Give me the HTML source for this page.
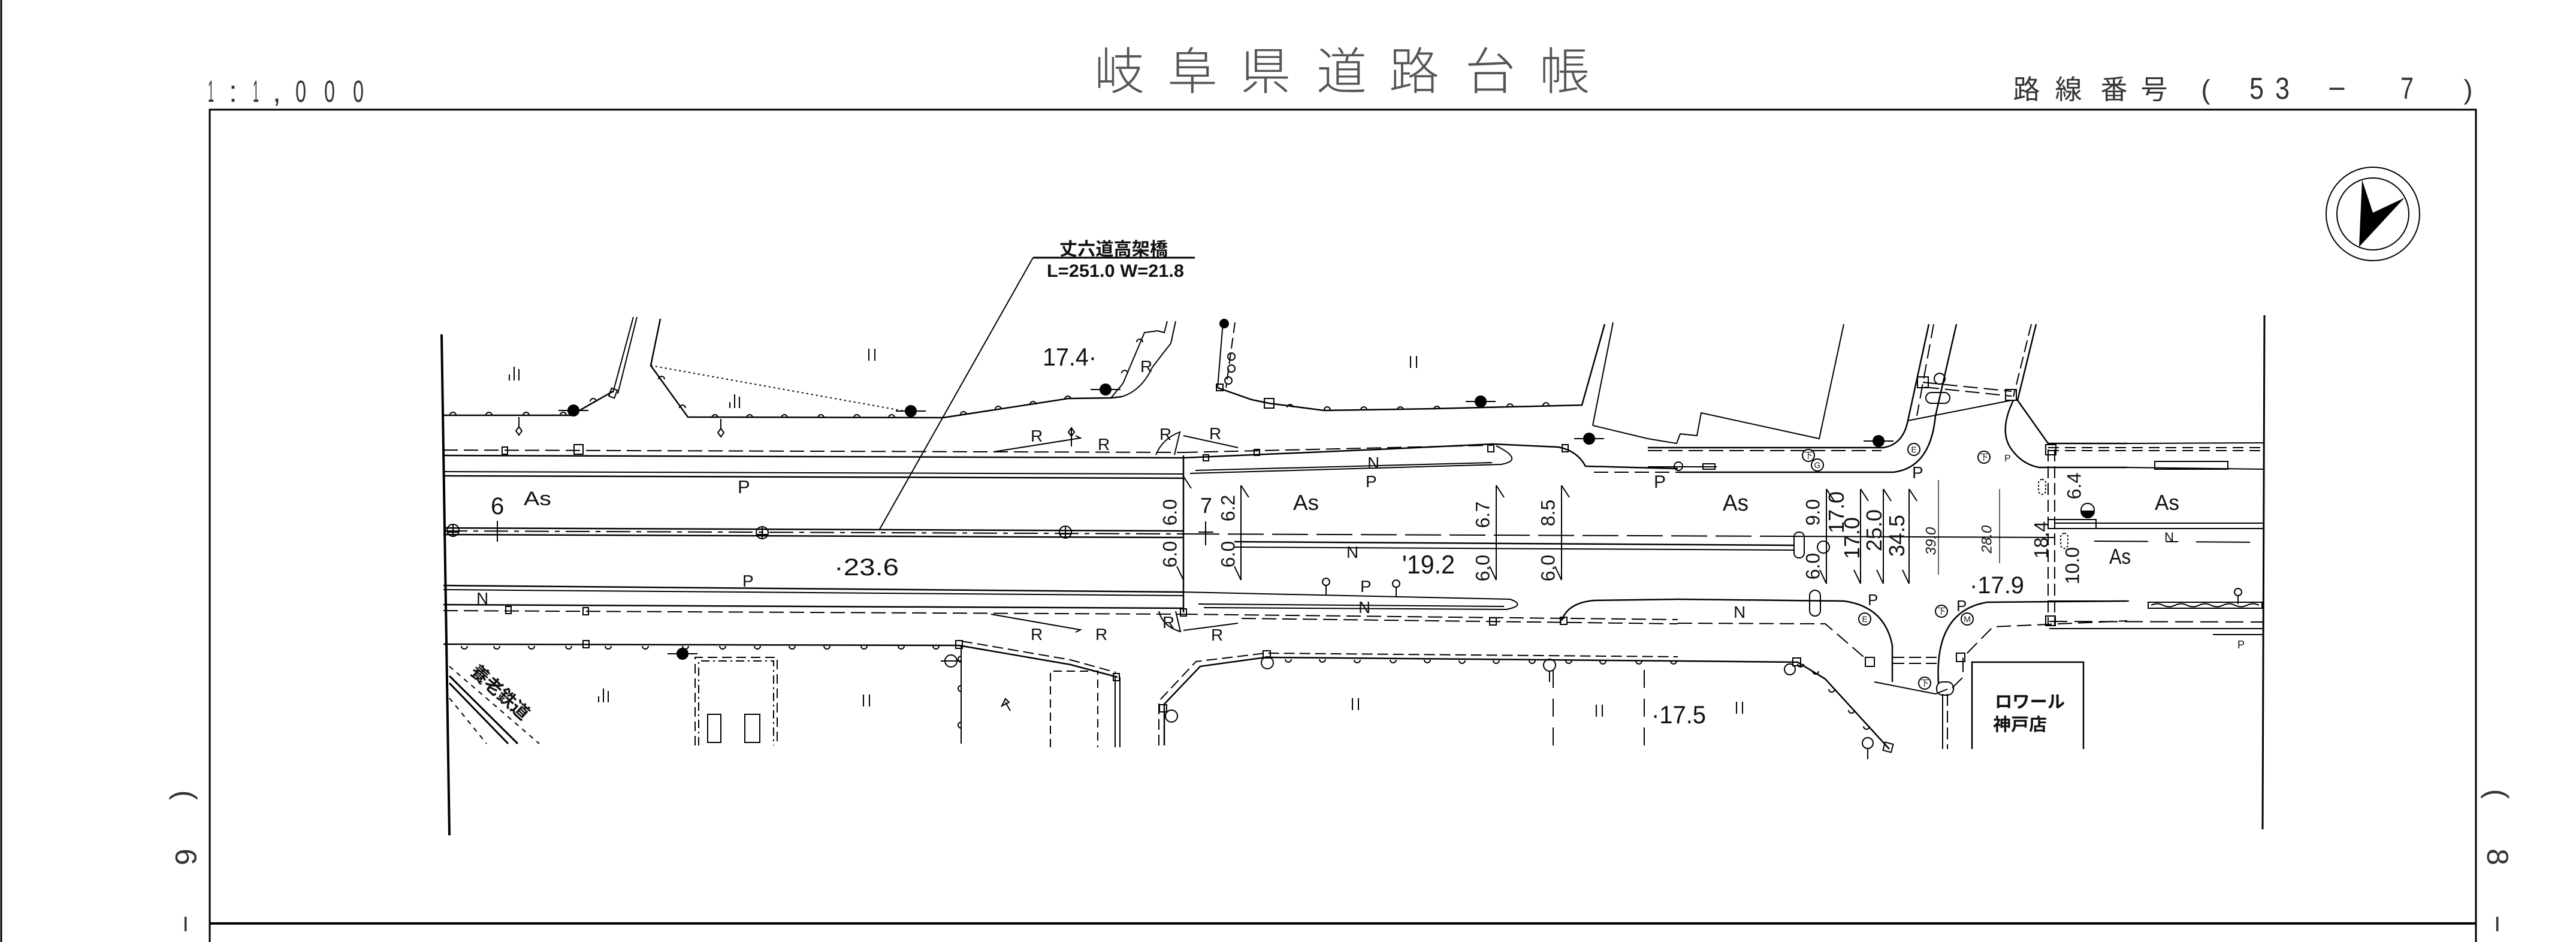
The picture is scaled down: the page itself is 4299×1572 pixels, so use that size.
<!DOCTYPE html>
<html><head><meta charset="utf-8"><style>
html,body{margin:0;padding:0;background:#fff;}
svg{display:block}
text{font-family:"Liberation Sans","Noto Sans CJK JP",sans-serif;fill:#111;stroke:none;}
.hd{fill:#333;}
.tt{fill:#555;font-weight:300;}
</style></head><body>
<svg width="4299" height="1572" viewBox="0 0 4299 1572" xmlns="http://www.w3.org/2000/svg">
<rect width="4299" height="1572" fill="#fff"/>
<g fill="none" stroke="#000" stroke-width="2">
<!-- frame -->
<line x1="2" y1="0" x2="2" y2="1572" stroke-width="3"/>
<polyline points="350,1572 350,183 4132,183 4132,1572" stroke-width="3"/>
<line x1="350" y1="1541" x2="4132" y2="1541" stroke-width="4"/>
<!-- compass -->
<circle cx="3960" cy="357" r="78"/>
<circle cx="3960" cy="357" r="60"/>
<polygon points="3942,300 3960,355 4013,330 3937,412" fill="#000" stroke="none"/>
<!-- road ends -->
<line x1="737" y1="558" x2="750" y2="1394" stroke-width="4"/>
<line x1="3779" y1="526" x2="3776" y2="1384" stroke-width="3"/>
<!-- leader -->
<line x1="1467" y1="885" x2="1724" y2="430"/>
<line x1="1724" y1="430" x2="1994" y2="430" stroke-width="3"/>

<!-- north left -->
<polyline points="740,693 953,693 1023,653" stroke-width="2.5"/>
<line x1="1023" y1="655" x2="1057" y2="529"/>
<line x1="1031" y1="657" x2="1063" y2="529"/>
<rect x="1018" y="649" width="10" height="14" transform="rotate(20 1023 656)"/>
<polyline points="1102,532 1086,610 1148,696 1574,697 1783,665 1854,664 1872,662" stroke-width="2.5"/>
<path d="M1872,662 Q1905,652 1923,613 L1943,587 L1954,573 L1962,536"/>
<polyline points="1854,664 1874,640 1910,555 1932,552 1943,555 1948,536"/>
<line x1="1086" y1="610" x2="1521" y2="688" stroke-dasharray="3 5"/>
<path d="M751,693a5,5 0 0 1 10,0M811,693a5,5 0 0 1 10,0M873,693a5,5 0 0 1 10,0M935,693a5,5 0 0 1 10,0M985,670a5,5 0 0 1 10,0M1099,633a5,5 0 0 1 10,0M1134,681a5,5 0 0 1 10,0M1188,697a5,5 0 0 1 10,0M1246,697a5,5 0 0 1 10,0M1304,697a5,5 0 0 1 10,0M1365,697a5,5 0 0 1 10,0M1425,697a5,5 0 0 1 10,0M1483,697a5,5 0 0 1 10,0M1603,692a5,5 0 0 1 10,0M1661,683a5,5 0 0 1 10,0M1719,675a5,5 0 0 1 10,0M1777,666a5,5 0 0 1 10,0M1872,623a5,5 0 0 1 10,0M1897,571a5,5 0 0 1 10,0"/>
<line x1="866" y1="696" x2="866" y2="714"/><path d="M866,712 l5,7 l-5,7 l-5,-7z"/>
<line x1="1203" y1="699" x2="1203" y2="717"/><path d="M1203,715 l5,7 l-5,7 l-5,-7z"/>
<line x1="1788" y1="716" x2="1788" y2="745"/><path d="M1788,714 l5,7 l-5,7 l-5,-7z"/>

<!-- road north left -->
<line x1="740" y1="751" x2="1975" y2="755" stroke-dasharray="24 10"/>
<line x1="740" y1="760" x2="1975" y2="764" stroke-width="2.5"/>
<line x1="740" y1="787" x2="1975" y2="791"/>
<line x1="740" y1="794" x2="1975" y2="798" stroke-width="2.5"/>
<rect x="838" y="746" width="9" height="12"/><rect x="958" y="742" width="15" height="16"/>
<!-- center left -->
<line x1="740" y1="881" x2="1975" y2="886" stroke-width="2.5"/>
<line x1="740" y1="886" x2="1975" y2="891" stroke-dasharray="40 10 8 10"/>
<line x1="740" y1="892" x2="1975" y2="897" stroke-width="2.5"/>
<line x1="830" y1="869" x2="830" y2="904"/>
<!-- south left -->
<line x1="740" y1="977" x2="1975" y2="988" stroke-width="2.5"/>
<line x1="740" y1="984" x2="1975" y2="994"/>
<line x1="740" y1="1009" x2="1975" y2="1015" stroke-width="2.5"/>
<line x1="740" y1="1019" x2="1975" y2="1025" stroke-dasharray="24 10"/>
<rect x="844" y="1012" width="9" height="12"/><rect x="973" y="1014" width="9" height="12"/>
<line x1="740" y1="1075" x2="1600" y2="1077" stroke-width="2.5"/>
<rect x="973" y="1069" width="10" height="12"/><rect x="1595" y="1069" width="11" height="13"/>
<polyline points="1600,1077 1786,1109 1865,1130" stroke-width="2.5"/>
<polyline points="1605,1070 1786,1101 1862,1122" stroke-dasharray="18 8"/>
<rect x="1858" y="1124" width="10" height="12"/>
<path d="M770,1078a5,5 0 0 0 10,0M824,1078a5,5 0 0 0 10,0M882,1078a5,5 0 0 0 10,0M944,1078a5,5 0 0 0 10,0M1010,1078a5,5 0 0 0 10,0M1072,1078a5,5 0 0 0 10,0M1139,1078a5,5 0 0 0 10,0M1201,1078a5,5 0 0 0 10,0M1259,1078a5,5 0 0 0 10,0M1317,1078a5,5 0 0 0 10,0M1375,1078a5,5 0 0 0 10,0M1437,1078a5,5 0 0 0 10,0M1499,1078a5,5 0 0 0 10,0M1557,1078a5,5 0 0 0 10,0"/>
<!-- bridge end -->
<line x1="1975" y1="760" x2="1975" y2="1022" stroke-width="2.5"/>
<path d="M1929,759 Q1940,732 1969,721 L1960,759"/>
<path d="M1934,1020 Q1940,1045 1970,1054 L1962,1020"/>
<polyline points="1658,754 1803,731 1795,727"/>
<polyline points="1654,1025 1803,1051 1795,1055"/>
<polyline points="1975,727 2066,747"/>
<polyline points="1975,1052 2066,1040"/>

<!-- lower left -->
<line x1="750" y1="1140" x2="848" y2="1241" stroke-width="3"/>
<line x1="750" y1="1128" x2="864" y2="1241" stroke-width="3"/>
<line x1="750" y1="1112" x2="900" y2="1241" stroke-dasharray="8 8"/>
<line x1="750" y1="1165" x2="812" y2="1241" stroke-dasharray="8 8"/>
<path d="M1160,1244 L1160,1097 L1297,1097 L1297,1244" stroke-dasharray="16 8"/>
<path d="M1166,1244 L1166,1103 L1291,1103 L1291,1244" stroke-dasharray="14 6 3 6"/>
<rect x="1181" y="1192" width="22" height="47"/>
<rect x="1243" y="1192" width="25" height="47"/>
<line x1="1604" y1="1077" x2="1604" y2="1241"/>
<path d="M1604,1095a5,5 0 0 0 0,10M1604,1144a5,5 0 0 0 0,10M1604,1205a5,5 0 0 0 0,10"/>
<path d="M1753,1247 L1753,1120 L1832,1120 L1832,1247" stroke-dasharray="14 8"/>
<line x1="1861" y1="1130" x2="1861" y2="1247"/>
<line x1="1869" y1="1130" x2="1869" y2="1247"/>
<path d="M1672,1178 l6,-12 l6,6 z M1678,1172 l8,14"/>

<!-- north middle -->
<line x1="2041" y1="538" x2="2032" y2="647"/>
<line x1="2061" y1="538" x2="2046" y2="647" stroke-dasharray="18 8"/>
<polyline points="2032,647 2089,667 2118,673 2210,685 2394,682 2640,676 2678,541" stroke-width="2.5"/>
<line x1="2692" y1="538" x2="2658" y2="710"/>
<rect x="2030" y="641" width="11" height="11"/><rect x="2110" y="665" width="16" height="16"/>
<path d="M2148,680a5,5 0 0 1 10,0M2210,684a5,5 0 0 1 10,0M2271,684a5,5 0 0 1 10,0M2332,684a5,5 0 0 1 10,0M2393,683a5,5 0 0 1 10,0M2515,679a5,5 0 0 1 10,0M2575,677a5,5 0 0 1 10,0"/>
<circle cx="2055" cy="595" r="6"/><circle cx="2055" cy="615" r="6"/><circle cx="2050" cy="635" r="6"/>
<line x1="1975" y1="755" x2="2491" y2="743" stroke-dasharray="24 10"/>
<path d="M1975,764 L2300,750 L2491,741 L2600,746 Q2632,752 2646,778 L2800,782" stroke-width="2.5"/>
<line x1="2660" y1="788" x2="2800" y2="788" stroke-dasharray="24 10"/>
<path d="M1986,790 L2505,775 Q2545,768 2497,744"/>
<line x1="1995" y1="785" x2="2490" y2="772"/>
<rect x="2483" y="742" width="10" height="12"/><rect x="2607" y="742" width="10" height="12"/>
<rect x="2093" y="750" width="9" height="10"/><rect x="2008" y="759" width="9" height="10"/>
<!-- center middle -->
<line x1="1975" y1="891" x2="2990" y2="895" stroke-dasharray="60 14"/>
<line x1="2990" y1="895" x2="3429" y2="897"/>
<line x1="2060" y1="904" x2="2994" y2="910" stroke-width="2.5"/>
<line x1="2060" y1="913" x2="2994" y2="918"/>
<line x1="2012" y1="870" x2="2012" y2="910"/>
<line x1="2000" y1="888" x2="2025" y2="888"/>
<rect x="2994" y="888" width="17" height="43" rx="8"/>
<rect x="3020" y="985" width="18" height="43" rx="9"/>
<!-- south middle -->
<path d="M1975,988 L2520,1000 Q2548,1010 2514,1017 L2009,1014"/>
<line x1="2000" y1="1008" x2="2510" y2="1012"/>
<line x1="1975" y1="1025" x2="2800" y2="1034" stroke-dasharray="24 10"/>
<line x1="2072" y1="1032" x2="2800" y2="1041" stroke-dasharray="24 10"/>
<path d="M2606,1036 Q2616,1006 2660,1002 L2800,1000" stroke-width="2.5"/>
<rect x="1970" y="1016" width="10" height="12"/><rect x="2486" y="1031" width="11" height="12"/><rect x="2604" y="1030" width="11" height="12"/>
<polyline points="1943,1244 1943,1175 2003,1112 2112,1097 2800,1103" stroke-width="2.5"/>
<polyline points="1934,1244 1934,1170 1996,1104 2112,1090 2800,1096" stroke-dasharray="18 8"/>
<rect x="2108" y="1086" width="12" height="12"/><rect x="1935" y="1176" width="12" height="12"/>
<path d="M2145,1100a5,5 0 0 0 10,0M2202,1100a5,5 0 0 0 10,0M2260,1101a5,5 0 0 0 10,0M2320,1101a5,5 0 0 0 10,0M2377,1101a5,5 0 0 0 10,0M2435,1102a5,5 0 0 0 10,0M2492,1102a5,5 0 0 0 10,0M2552,1102a5,5 0 0 0 10,0M2613,1102a5,5 0 0 0 10,0M2670,1103a5,5 0 0 0 10,0M2730,1103a5,5 0 0 0 10,0M2788,1103a5,5 0 0 0 10,0"/>
<line x1="2592" y1="1118" x2="2592" y2="1244" stroke-dasharray="30 18"/>
<line x1="2744" y1="1118" x2="2744" y2="1244" stroke-dasharray="30 18"/>

<!-- intersection -->
<polyline points="2658,710 2750,732 2798,740 2804,724 2832,727 2839,689 3036,732 3077,541" stroke-width="2"/>
<path d="M2750,747 L3143,747 Q3176,742 3184,702 L3219,541" stroke-width="2.5"/>
<line x1="2750" y1="752" x2="3140" y2="752" stroke-dasharray="24 10"/>
<line x1="3227" y1="541" x2="3199" y2="694" stroke-dasharray="24 10"/>
<path d="M2800,788 L3160,788 Q3222,780 3230,694 L3265,541" stroke-width="2.5"/>
<line x1="2750" y1="779" x2="2865" y2="779"/>
<circle cx="2801" cy="778" r="7"/><rect x="2842" y="774" width="20" height="9"/>
<line x1="3184" y1="702" x2="3357" y2="668"/>
<line x1="3209" y1="638" x2="3357" y2="653" stroke-dasharray="24 10"/>
<line x1="3212" y1="646" x2="3357" y2="661" stroke-dasharray="24 10"/>
<rect x="3200" y="629" width="18" height="18"/><rect x="3347" y="650" width="18" height="18"/>
<rect x="3214" y="655" width="40" height="18" rx="9"/>
<polyline points="3398,541 3367,668 3418,740 3550,740" stroke-width="2.5"/>
<line x1="3390" y1="541" x2="3360" y2="662" stroke-dasharray="20 8"/>
<path d="M3360,668 Q3335,720 3357,750 Q3375,775 3403,780 L3550,780" stroke-width="2.5"/>
<rect x="3414" y="742" width="17" height="17"/>
<line x1="3418" y1="750" x2="3418" y2="1043" stroke-dasharray="20 8"/>
<line x1="3429" y1="750" x2="3429" y2="1043" stroke-dasharray="20 8"/>
<rect x="3402" y="800" width="12" height="25" rx="6" stroke-dasharray="3 3"/>
<rect x="3439" y="890" width="12" height="25" rx="6" stroke-dasharray="3 3"/>
<rect x="3418" y="867" width="80" height="15"/>
<path d="M2800,1000 L3077,1003 Q3145,1012 3158,1077 L3158,1138" stroke-width="2.5"/>
<polyline points="2800,1040 3046,1041 3117,1102" stroke-dasharray="24 10"/>
<polyline points="2800,1103 3000,1105 3046,1133 3153,1250" stroke-width="2.5"/>
<rect x="2992" y="1098" width="13" height="13"/><rect x="3113" y="1097" width="15" height="15"/><rect x="3144" y="1240" width="14" height="14" transform="rotate(15 3151 1247)"/>
<polyline points="3128,1138 3230,1158 3250,1150"/>
<rect x="3232" y="1138" width="28" height="22" rx="10"/>
<path d="M3235,1140 Q3228,1020 3316,1005 L3550,1003" stroke-width="2.5"/>
<polyline points="3258,1148 3276,1130 3276,1097 3326,1046 3550,1036" stroke-dasharray="24 10"/>
<rect x="3265" y="1090" width="14" height="14"/><rect x="3414" y="1028" width="16" height="16"/>
<line x1="3242" y1="1158" x2="3242" y2="1250"/>
<line x1="3250" y1="1158" x2="3250" y2="1250" stroke-dasharray="20 8"/>
<line x1="3158" y1="1097" x2="3232" y2="1097" stroke-dasharray="20 8"/>
<line x1="3158" y1="1107" x2="3232" y2="1107" stroke-dasharray="20 8"/>
<polyline points="3291,1250 3291,1105 3477,1105 3477,1250" stroke-width="2.5"/>
<path d="M3000,1108a5,5 0 0 0 10,0M3025,1120a5,5 0 0 0 10,0M3052,1150a5,5 0 0 0 10,0M3085,1185a5,5 0 0 0 10,0M3110,1212a5,5 0 0 0 10,0"/>
<!-- right part -->
<line x1="3550" y1="740" x2="3778" y2="739"/>
<line x1="3418" y1="747" x2="3778" y2="747" stroke-dasharray="18 10"/>
<line x1="3418" y1="752" x2="3778" y2="752" stroke-dasharray="18 10"/>
<line x1="3550" y1="780" x2="3778" y2="783"/>
<rect x="3596" y="770" width="122" height="13"/>
<line x1="3430" y1="873" x2="3778" y2="873"/>
<line x1="3430" y1="882" x2="3778" y2="882"/>
<line x1="3495" y1="903" x2="3778" y2="905" stroke-dasharray="90 30 20 30"/>
<line x1="3418" y1="1003" x2="3553" y2="1003"/>
<rect x="3585" y="1005" width="190" height="10"/>
<path d="M3590,1010 q10,-5 20,0 t20,0 t20,0 t20,0 t20,0 t20,0 t20,0 t20,0 t20,0"/>
<line x1="3420" y1="1037" x2="3778" y2="1038" stroke-dasharray="30 12"/>
<line x1="3420" y1="1049" x2="3778" y2="1049"/>
<line x1="3693" y1="1059" x2="3778" y2="1059"/>
<line x1="3735" y1="993" x2="3735" y2="1008"/><circle cx="3735" cy="988" r="6"/>

<!-- dimension lines -->
<line x1="2071" y1="810" x2="2071" y2="968"/><line x1="2071" y1="810" x2="2084" y2="830"/><line x1="2060" y1="945" x2="2071" y2="968"/>
<line x1="2497" y1="810" x2="2497" y2="968"/><line x1="2497" y1="810" x2="2510" y2="830"/><line x1="2486" y1="945" x2="2497" y2="968"/>
<line x1="2606" y1="810" x2="2606" y2="968"/><line x1="2606" y1="810" x2="2619" y2="830"/><line x1="2595" y1="945" x2="2606" y2="968"/>
<line x1="1975" y1="795" x2="1988" y2="815"/><line x1="1964" y1="945" x2="1975" y2="968"/>
<line x1="3048" y1="816" x2="3048" y2="974"/><line x1="3048" y1="816" x2="3061" y2="836"/><line x1="3037" y1="951" x2="3048" y2="974"/>
<line x1="3105" y1="816" x2="3105" y2="974"/><line x1="3105" y1="816" x2="3118" y2="836"/><line x1="3094" y1="951" x2="3105" y2="974"/>
<line x1="3143" y1="816" x2="3143" y2="974"/><line x1="3143" y1="816" x2="3156" y2="836"/><line x1="3132" y1="951" x2="3143" y2="974"/>
<line x1="3186" y1="816" x2="3186" y2="974"/><line x1="3186" y1="816" x2="3199" y2="836"/><line x1="3175" y1="951" x2="3186" y2="974"/>
<line x1="3235" y1="801" x2="3235" y2="959" stroke-width="1.2"/>
<line x1="3337" y1="816" x2="3337" y2="940" stroke-width="1.2"/>

<!-- field symbols -->
<path d="M850,625v10M858,612v23M866,616v19 M1218,671v10M1226,658v23M1234,662v19 M999,1162v10M1007,1149v23M1015,1153v19
M1450,582v20M1460,582v20 M2354,594v20M2364,594v20 M1441,1159v20M1451,1159v20 M2257,1165v20M2267,1165v20 M2664,1176v20M2674,1176v20 M2898,1171v20M2908,1171v20"/>

<!-- symbols -->
<g fill="#000">
<circle cx="957" cy="685" r="9"/><circle cx="1520" cy="686" r="9"/><circle cx="1845" cy="650" r="9"/>
<circle cx="2471" cy="670" r="9"/><circle cx="2652" cy="732" r="9"/><circle cx="3135" cy="736" r="9"/>
<circle cx="1139" cy="1091" r="9"/><circle cx="2043" cy="540" r="7"/>
</g>
<path d="M932,685h50M1495,686h50M1820,650h50M2446,670h50M2627,732h50M3110,736h50M1114,1091h50"/>
<circle cx="756" cy="885" r="10"/><circle cx="1272" cy="889" r="10"/><circle cx="1778" cy="888" r="10"/>
<path d="M746,888h20M756,875v20M1262,892h20M1272,879v20M1768,891h20M1778,878v20"/>
<circle cx="3043" cy="913" r="10"/><circle cx="3484" cy="851" r="11"/>
<path d="M3473,853a11,11 0 0 0 22,0z" fill="#000"/>
<circle cx="2115" cy="1106" r="10"/><circle cx="2586" cy="1110" r="10"/><circle cx="1955" cy="1195" r="10"/>
<circle cx="1587" cy="1103" r="10"/><circle cx="3237" cy="632" r="9"/><circle cx="2987" cy="1117" r="9"/><circle cx="3117" cy="1240" r="9"/>
<path d="M1570,1103h34M3117,1249v18M2586,1120v18"/>
<circle cx="2213" cy="971" r="6"/><line x1="2213" y1="977" x2="2213" y2="992"/>
<circle cx="2330" cy="974" r="6"/><line x1="2330" y1="980" x2="2330" y2="995"/>
<circle cx="3018" cy="760" r="10"/><circle cx="3033" cy="776" r="10"/><circle cx="3194" cy="750" r="10"/>
<circle cx="3311" cy="763" r="10"/><circle cx="3240" cy="1020" r="10"/><circle cx="3283" cy="1033" r="10"/>
<circle cx="3112" cy="1033" r="10"/><circle cx="3212" cy="1140" r="10"/>
</g>

<!-- header texts -->
<g font-size="51" class="hd">
<text class="hd" x="352" y="170" text-anchor="middle" textLength="10" lengthAdjust="spacingAndGlyphs">1</text>
<text class="hd" x="389" y="170" text-anchor="middle">:</text>
<text class="hd" x="427" y="170" text-anchor="middle" textLength="10" lengthAdjust="spacingAndGlyphs">1</text>
<text class="hd" x="462" y="170" text-anchor="middle">,</text>
<text class="hd" x="502" y="170" text-anchor="middle" textLength="18" lengthAdjust="spacingAndGlyphs">0</text>
<text class="hd" x="550" y="170" text-anchor="middle" textLength="18" lengthAdjust="spacingAndGlyphs">0</text>
<text class="hd" x="598" y="170" text-anchor="middle" textLength="18" lengthAdjust="spacingAndGlyphs">0</text>
</g>
<g font-size="84" text-anchor="middle">
<text class="tt" x="1868" y="149">岐</text><text class="tt" x="1990" y="149">阜</text><text class="tt" x="2112" y="149">県</text>
<text class="tt" x="2239" y="149">道</text><text class="tt" x="2360" y="149">路</text><text class="tt" x="2487" y="149">台</text><text class="tt" x="2611" y="149">帳</text>
</g>
<g font-size="45" text-anchor="middle">
<text class="hd" x="3382" y="165">路</text><text class="hd" x="3452" y="165">線</text><text class="hd" x="3528" y="165">番</text><text class="hd" x="3595" y="165">号</text>
<text class="hd" x="3681" y="165">(</text><text class="hd" x="4119" y="165">)</text>
</g>
<g font-size="51" text-anchor="middle">
<text class="hd" x="3766" y="165" textLength="24" lengthAdjust="spacingAndGlyphs">5</text>
<text class="hd" x="3809" y="165" textLength="24" lengthAdjust="spacingAndGlyphs">3</text>
<text class="hd" x="3900" y="165">−</text>
<text class="hd" x="4017" y="165" textLength="22" lengthAdjust="spacingAndGlyphs">7</text>
</g>
<g font-size="50" text-anchor="middle">
<text class="hd" transform="translate(311,1327) rotate(90)" dy="0.36em">(</text>
<text class="hd" transform="translate(311,1430) rotate(90)" dy="0.36em">6</text>
<text class="hd" transform="translate(311,1542) rotate(90)" dy="0.36em">−</text>
<text class="hd" transform="translate(4169,1325) rotate(90)" dy="0.36em">(</text>
<text class="hd" transform="translate(4169,1430) rotate(90)" dy="0.36em">8</text>
<text class="hd" transform="translate(4169,1542) rotate(90)" dy="0.36em">−</text>
</g>
<text x="1768" y="426" font-size="30" font-weight="bold" textLength="181" lengthAdjust="spacingAndGlyphs">丈六道高架橋</text>
<text x="1747" y="462" font-size="30" font-weight="bold" textLength="229" lengthAdjust="spacingAndGlyphs">L=251.0  W=21.8</text>
<text x="3329" y="1181" font-size="29" font-weight="bold" textLength="117" lengthAdjust="spacingAndGlyphs">ロワール</text>
<text x="3326" y="1219" font-size="29" font-weight="bold" textLength="90" lengthAdjust="spacingAndGlyphs">神戸店</text>
<text transform="translate(835,1155) rotate(42)" font-size="30" font-weight="bold" text-anchor="middle" dy="0.36em">養老鉄道</text>

<!-- road labels -->
<text x="819" y="858" font-size="40">6</text>
<text x="874" y="843" font-size="32" textLength="46" lengthAdjust="spacingAndGlyphs">As</text>
<text x="1231" y="823" font-size="31">P</text>
<text x="1239" y="979" font-size="28">P</text>
<text x="795" y="1008" font-size="28">N</text>
<text x="1392" y="960" font-size="40" textLength="108" lengthAdjust="spacingAndGlyphs">·23.6</text>
<text x="1740" y="610" font-size="42" textLength="90" lengthAdjust="spacingAndGlyphs">17.4·</text>
<g font-size="28">
<text x="1720" y="737">R</text><text x="1832" y="751">R</text><text x="1935" y="734">R</text>
<text x="1720" y="1068">R</text><text x="1828" y="1068">R</text><text x="1940" y="1048">R</text>
<text x="2018" y="733">R</text><text x="2021" y="1069">R</text><text x="1903" y="621">R</text>
</g>
<text x="2282" y="782" font-size="28">N</text>
<text x="2279" y="813" font-size="28">P</text>
<text x="2003" y="856" font-size="36" textLength="20" lengthAdjust="spacingAndGlyphs">7</text>
<text x="2158" y="851" font-size="36" textLength="43" lengthAdjust="spacingAndGlyphs">As</text>
<text x="2247" y="931" font-size="28">N</text>
<text x="2340" y="957" font-size="44" textLength="88" lengthAdjust="spacingAndGlyphs">'19.2</text>
<text x="2270" y="988" font-size="28">P</text>
<text x="2267" y="1023" font-size="28">N</text>
<text x="2760" y="814" font-size="30">P</text>
<text x="2875" y="852" font-size="38" textLength="43" lengthAdjust="spacingAndGlyphs">As</text>
<text x="3191" y="798" font-size="28">P</text>
<text x="2893" y="1031" font-size="28">N</text>
<text x="3117" y="1010" font-size="26">P</text>
<text x="3265" y="1020" font-size="26">P</text>
<text x="3287" y="990" font-size="40" textLength="91" lengthAdjust="spacingAndGlyphs">·17.9</text>
<text x="2756" y="1207" font-size="42" textLength="91" lengthAdjust="spacingAndGlyphs">·17.5</text>
<text x="3596" y="851" font-size="36" textLength="41" lengthAdjust="spacingAndGlyphs">As</text>
<text x="3612" y="904" font-size="22">N</text>
<text x="3520" y="941" font-size="36" textLength="36" lengthAdjust="spacingAndGlyphs">As</text>
<text x="3734" y="1082" font-size="18">P</text>
<text x="3345" y="770" font-size="16">P</text>
<g font-size="14" text-anchor="middle">
<text x="3018" y="765">下</text><text x="3033" y="781">G</text><text x="3194" y="755">E</text><text x="3311" y="768">下</text>
<text x="3240" y="1025">下</text><text x="3283" y="1038">M</text><text x="3112" y="1038">E</text><text x="3212" y="1145">下</text>
</g>
<!-- rotated dims -->
<g font-size="32" text-anchor="middle">
<text transform="translate(1952,855) rotate(-90)" dy="0.36em">6.0</text>
<text transform="translate(1952,925) rotate(-90)" dy="0.36em">6.0</text>
<text transform="translate(2049,848) rotate(-90)" dy="0.36em">6.2</text>
<text transform="translate(2049,925) rotate(-90)" dy="0.36em">6.0</text>
<text transform="translate(2474,859) rotate(-90)" dy="0.36em">6.7</text>
<text transform="translate(2474,948) rotate(-90)" dy="0.36em">6.0</text>
<text transform="translate(2583,856) rotate(-90)" dy="0.36em">8.5</text>
<text transform="translate(2583,948) rotate(-90)" dy="0.36em">6.0</text>
<text transform="translate(3025,855) rotate(-90)" dy="0.36em">9.0</text>
<text transform="translate(3025,945) rotate(-90)" dy="0.36em">6.0</text>
<text transform="translate(3406,901) rotate(-90)" dy="0.36em">18.4</text>
<text transform="translate(3461,811) rotate(-90)" dy="0.36em">6.4</text>
<text transform="translate(3458,944) rotate(-90)" dy="0.36em">10.0</text>
</g>
<g font-size="36" text-anchor="middle">
<text transform="translate(3064,855) rotate(-90)" dy="0.36em">17.0</text>
<text transform="translate(3090,898) rotate(-90)" dy="0.36em">17.0</text>
<text transform="translate(3127,885) rotate(-90)" dy="0.36em">25.0</text>
<text transform="translate(3165,894) rotate(-90)" dy="0.36em">34.5</text>
</g>
<g font-size="24" text-anchor="middle" font-style="italic">
<text transform="translate(3222,903) rotate(-90)" dy="0.36em">39.0</text>
<text transform="translate(3315,900) rotate(-90)" dy="0.36em">28.0</text>
</g>
</svg>
</body></html>
